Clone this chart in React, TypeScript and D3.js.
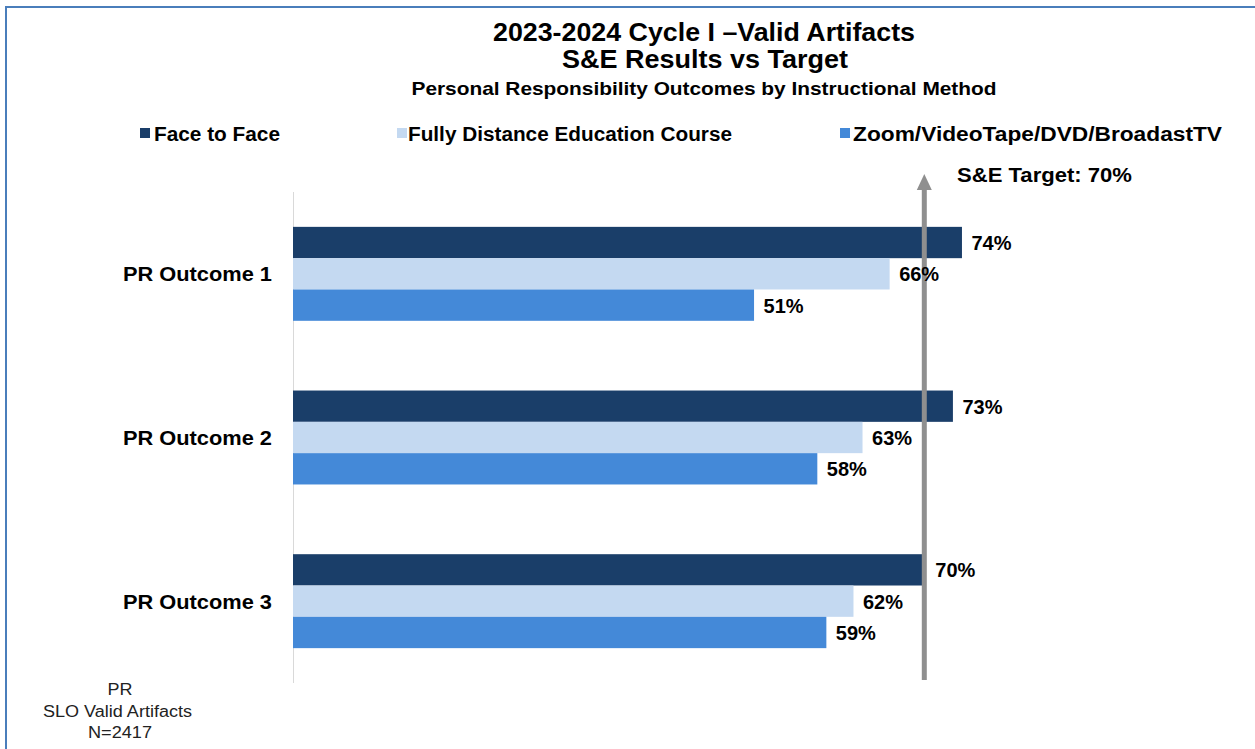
import React from "react";
import * as d3 from "d3";

const categories = ["PR Outcome 1", "PR Outcome 2", "PR Outcome 3"];
const seriesNames = ["Face to Face", "Fully Distance Education Course", "Zoom/VideoTape/DVD/BroadastTV"];
const faceToFace = [74, 73, 70];
const fullyDistance = [66, 63, 62];
const zoomVideo = [51, 58, 59];
const targetValue = 70;
const seriesColors = ["#1a3e69", "#c4d9f1", "#4489d8"];
const titleLines = ["2023-2024 Cycle I \u2013Valid Artifacts", "S&E Results vs Target"];
const subtitle = "Personal Responsibility Outcomes by Instructional Method";
const footLines = ["PR", "SLO Valid Artifacts", "N=2417"];

const W = 1255;
const H = 749;
const FONT = "'Liberation Sans', Arial, Helvetica, sans-serif";

export default function App() {
  const seriesValues = [faceToFace, fullyDistance, zoomVideo];
  const x = d3.scaleLinear().domain([0, 100]).range([293, 1197]);
  const y = d3.scaleBand<string>().domain(categories).range([192, 683]).paddingInner(0.426).paddingOuter(0.213);
  const ySub = d3.scaleBand<string>().domain(seriesNames).range([0, y.bandwidth()]);
  const tx = x(targetValue) - 1.5;

  const legendPos = [
    { sq: 140, tx: 154, w: 126 },
    { sq: 397, tx: 408, w: 324 },
    { sq: 840, tx: 853, w: 369 },
  ];
  const catWidths = [149, 149, 149];

  return (
    <svg width={W} height={H} style={{ position: "absolute", left: 0, top: 0, background: "#fff" }} fontFamily={FONT}>
      <rect x={0} y={0} width={W} height={H} fill="#fff" />
      <rect x={6} y={7} width={W + 20} height={H + 20} fill="none" stroke="#4a7ebb" strokeWidth={2} />

      {/* titles */}
      <text x={704} y={41} textAnchor="middle" fontSize={25} fontWeight="bold" fill="#000" textLength={422} lengthAdjust="spacingAndGlyphs">{titleLines[0]}</text>
      <text x={705} y={68} textAnchor="middle" fontSize={25} fontWeight="bold" fill="#000" textLength={286} lengthAdjust="spacingAndGlyphs">{titleLines[1]}</text>
      <text x={704} y={95} textAnchor="middle" fontSize={19} fontWeight="bold" fill="#000" textLength={585} lengthAdjust="spacingAndGlyphs">{subtitle}</text>

      {/* legend */}
      {seriesNames.map((s, i) => (
        <g key={s}>
          <rect x={legendPos[i].sq} y={128} width={10} height={10} fill={seriesColors[i]} />
          <text x={legendPos[i].tx} y={141} fontSize={20} fontWeight="bold" fill="#000" textLength={legendPos[i].w} lengthAdjust="spacingAndGlyphs">{s}</text>
        </g>
      ))}

      {/* axis line */}
      <line x1={293.5} x2={293.5} y1={192} y2={683} stroke="#d9d9d9" strokeWidth={1} />

      {/* category labels */}
      {categories.map((c, ci) => (
        <text key={c} x={272} y={(y(c) as number) + y.bandwidth() / 2} dy="0.36em" textAnchor="end" fontSize={21} fontWeight="bold" fill="#000" textLength={catWidths[ci]} lengthAdjust="spacingAndGlyphs">{c}</text>
      ))}

      {/* bars */}
      {categories.map((c, ci) => (
        <g key={c}>
          {seriesNames.map((s, si) => {
            const v = seriesValues[si][ci];
            const by = (y(c) as number) + (ySub(s) as number);
            return (
              <rect key={s} x={x(0)} y={by} width={x(v) - x(0)} height={ySub.bandwidth()} fill={seriesColors[si]} />
            );
          })}
        </g>
      ))}

      {/* target arrow */}
      <line x1={tx} x2={tx} y1={680} y2={188} stroke="#8f8f8f" strokeWidth={5} />
      <path d={`M${tx - 7.5},${190} L${tx + 7.5},${190} L${tx},${174} Z`} fill="#8f8f8f" />
      <text x={957} y={182} fontSize={20} fontWeight="bold" fill="#000" textLength={175} lengthAdjust="spacingAndGlyphs">{`S&E Target: ${targetValue}%`}</text>

      {/* value labels */}
      {categories.map((c, ci) => (
        <g key={c}>
          {seriesNames.map((s, si) => {
            const v = seriesValues[si][ci];
            const cy = (y(c) as number) + (ySub(s) as number) + ySub.bandwidth() / 2;
            return (
              <text key={s} x={x(v) + 9.5} y={cy} dy="0.36em" fontSize={21} fontWeight="bold" fill="#000" textLength={40} lengthAdjust="spacingAndGlyphs">{`${v}%`}</text>
            );
          })}
        </g>
      ))}

      {/* footnote */}
      <text x={120} y={695} textAnchor="middle" fontSize={16} fill="#222" textLength={25} lengthAdjust="spacingAndGlyphs">{footLines[0]}</text>
      <text x={117.5} y={717} textAnchor="middle" fontSize={16} fill="#222" textLength={149} lengthAdjust="spacingAndGlyphs">{footLines[1]}</text>
      <text x={120} y={738} textAnchor="middle" fontSize={16} fill="#222" textLength={64} lengthAdjust="spacingAndGlyphs">{footLines[2]}</text>
    </svg>
  );
}
